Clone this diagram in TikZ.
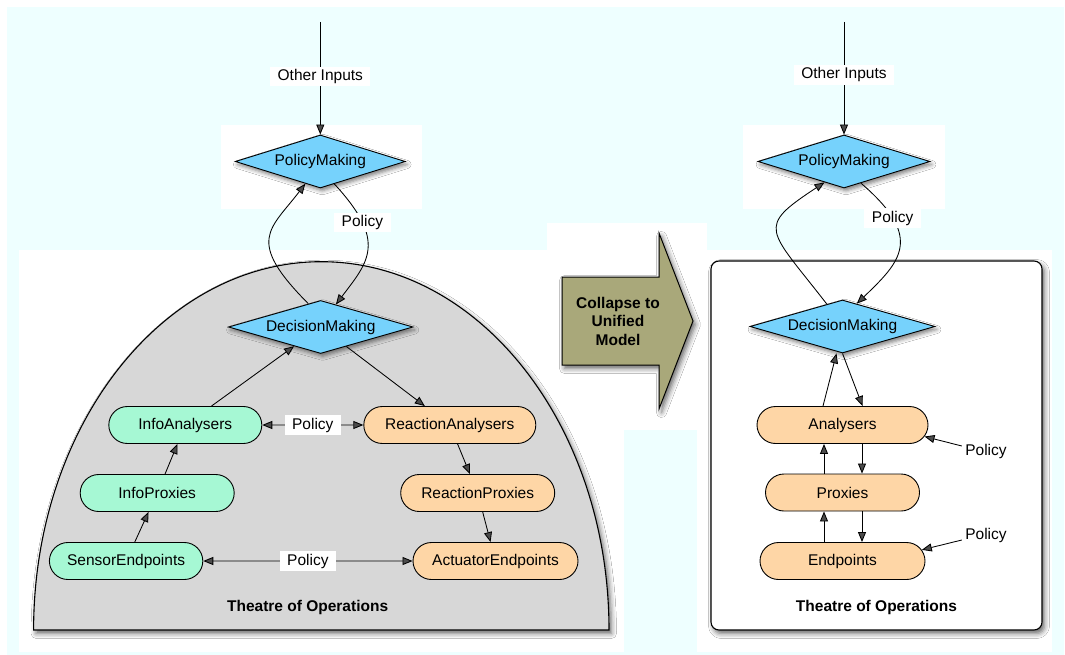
\documentclass[tikz,border=0pt]{standalone}
\usepackage{fontspec}
\setmainfont{Liberation Sans}
\usetikzlibrary{shapes.geometric,shapes.misc,arrows.meta,shadows.blur}

\definecolor{bgcyan}{RGB}{238,255,255}
\definecolor{decideblue}{RGB}{118,210,252}
\definecolor{infomint}{RGB}{166,248,212}
\definecolor{reactpeach}{RGB}{254,214,166}
\definecolor{domegray}{RGB}{215,215,215}
\definecolor{arrowolive}{RGB}{169,168,122}

\begin{document}
\begin{tikzpicture}[x=1pt,y=-1pt,
  every node/.style={font=\fontsize{15.5}{18.5}\selectfont},
  bold/.style={font=\fontsize{15.5}{18.5}\selectfont\bfseries},
  softshadow/.style={blur shadow={shadow xshift=2.5pt,shadow yshift=-3.5pt,shadow blur radius=5pt,shadow opacity=60}},
  decide/.style={diamond,shape aspect=3,draw=black,line width=0.9pt,fill=decideblue,
    inner sep=0pt,minimum width=#1,minimum height=53pt,
    blur shadow={shadow xshift=2pt,shadow yshift=-3pt,shadow blur radius=4pt,shadow opacity=50}},
  pill/.style={rounded rectangle,draw=black,line width=0.9pt,inner sep=0pt,
    minimum height=37pt,minimum width=#1},
  infopill/.style={pill=#1,fill=infomint},
  reactpill/.style={pill=#1,fill=reactpeach},
  lbl/.style={fill=white,inner xsep=7.5pt,inner ysep=2.5pt},
  conn/.style={line width=0.85pt,-{Triangle[length=10pt,width=8pt]}},
  both/.style={line width=0.85pt,{Triangle[length=10pt,width=8pt]}-{Triangle[length=10pt,width=8pt]}}
]
\useasboundingbox (0,0) rectangle (1065,655);

% page background and the white backing panels
\fill[white] (0,0) rectangle (1065,655);
\fill[bgcyan] (7,7) rectangle (1064,655);
\fill[white] (221,125) rectangle (422,209);
\fill[white] (743,125) rectangle (945,209);
\fill[white] (19,250) rectangle (624,652);
\fill[white] (547,223) rectangle (707,430);
\fill[white] (697,250) rectangle (1052,652);

% theatre of operations: dome (left) and box (right)
\path[draw=black,line width=1.1pt,fill=domegray,softshadow]
  (33.6,630) .. controls (33.6,426.6) and (162.4,261.7) .. (321.3,261.7)
  .. controls (480.2,261.7) and (609,426.6) .. (609,630) -- cycle;
\path[draw=black,line width=1.1pt,fill=white,rounded corners=8pt,softshadow]
  (711,261) rectangle (1042,630);

% collapse arrow
\path[draw=black,line width=1pt,fill=arrowolive,softshadow]
  (562,277) -- (659,277) -- (659,233) -- (693,321) -- (659,409) -- (659,365) -- (562,365) -- cycle;
\node[bold,align=center] (collapse) at (618,321) {Collapse to\\Unified\\Model};

% ---- left model ----
\node[decide=170pt] (pmL) at (320.3,161.5) {PolicyMaking};
\node[decide=184.5pt] (dmL) at (320.7,327) {DecisionMaking};
\node[infopill=153pt] (ia) at (185.3,425) {InfoAnalysers};
\node[reactpill=172pt] (ra) at (449.8,425) {ReactionAnalysers};
\node[infopill=154pt] (ip) at (157.2,493) {InfoProxies};
\node[reactpill=154pt] (rp) at (477.7,493) {ReactionProxies};
\node[infopill=153.4pt] (se) at (126.1,561) {SensorEndpoints};
\node[reactpill=165pt] (ae) at (495.5,561) {ActuatorEndpoints};
\node[bold] (theatreL) at (307.6,607.5) {Theatre of Operations};
\coordinate (inL) at (320.3,22);

\draw[conn] (inL) -- node[lbl,pos=.482]{Other Inputs} (pmL.north);
\draw[conn] (dmL.118) .. controls (245,240) and (270,230) .. (pmL.236);
\draw[conn] (pmL.-58) .. controls (388,242) and (368,262) .. node[lbl,pos=.26]{Policy} (dmL.56);
\draw[conn] (ia) -- (dmL);
\draw[conn] (dmL) -- (ra);
\draw[both] (ia) -- node[lbl]{Policy} (ra);
\draw[conn] (ip) -- (ia);
\draw[conn] (se) -- (ip);
\draw[conn] (ra) -- (rp);
\draw[conn] (rp) -- (ae);
\draw[both] (se) -- node[lbl]{Policy} (ae);

% ---- right (unified) model ----
\node[decide=172pt] (pmR) at (844,161.5) {PolicyMaking};
\node[decide=185pt] (dmR) at (842.5,326.5) {DecisionMaking};
\node[reactpill=171pt] (an) at (842.5,425) {Analysers};
\node[reactpill=154pt] (px) at (842.5,492.5) {Proxies};
\node[reactpill=165pt] (ep) at (842.5,561) {Endpoints};
\node (polA) at (986,451) {Policy};
\node (polB) at (986,535) {Policy};
\node[bold] (theatreR) at (876.5,607.5) {Theatre of Operations};
\coordinate (inR) at (844,22);

\draw[conn] (inR) -- node[lbl,pos=.47]{Other Inputs} (pmR.north);
\draw[conn] (dmR.125) .. controls (768,228) and (755,228) .. (pmR.227);
\draw[conn] (pmR.-52) .. controls (925,238) and (900,262) .. node[lbl,pos=.24]{Policy} (dmR.58);
\draw[conn] ([xshift=-19.5pt]an.north) -- ([xshift=-6pt]dmR.south);
\draw[conn] (dmR.south) -- ([xshift=20pt]an.north);
\draw[conn] ([xshift=-18.5pt]px.north) -- ([xshift=-18.5pt]an.south);
\draw[conn] ([xshift=19.5pt]an.south) -- ([xshift=19.5pt]px.north);
\draw[conn] ([xshift=-18.5pt]ep.north) -- ([xshift=-18.5pt]px.south);
\draw[conn] ([xshift=19.5pt]px.south) -- ([xshift=19.5pt]ep.north);
\draw[conn] ([yshift=5pt]polA.west) -- (an.-8);
\draw[conn] ([yshift=-5pt]polB.west) -- (ep.8);
\end{tikzpicture}
\end{document}
